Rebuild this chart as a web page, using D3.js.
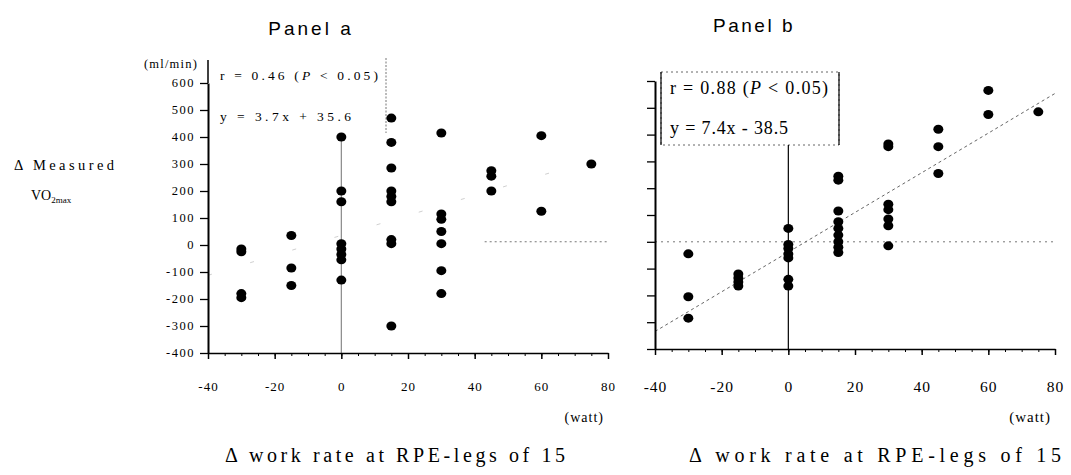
<!DOCTYPE html>
<html>
<head>
<meta charset="utf-8">
<script src="https://cdn.jsdelivr.net/npm/d3@7"></script>
<style>
  body { margin: 0; background: #fff; }
  text { font-family: "Liberation Serif", "Times New Roman", serif; fill: #000; }
</style>
</head>
<body>
<div id="container"></div>
<script>
/* CONSTANTS AND GLOBALS */
const width = 1071, height = 475

// DATA
const xLevels = [-30, -15, 0, 15, 30, 45, 60, 75]   // watt
const panelAValues = [
  [-15, -25, -180, -195],
  [35, -85, -150],
  [400, 200, 160, 5, -15, -35, -55, -130],
  [470, 380, 285, 200, 180, 160, 20, 5, -300],
  [415, 115, 95, 50, 5, -95, -180],
  [275, 255, 200],
  [405, 125],
  [300]
]
const panelBValues = [
  [-45, -205, -285],
  [-120, -135, -150, -165],
  [50, -10, -25, -45, -60, -140, -165],
  [245, 230, 115, 75, 50, 25, 0, -20, -40],
  [365, 355, 140, 120, 85, 60, -15],
  [420, 355, 255],
  [565, 475],
  [485]
]
const regA = { slope: 3.7, intercept: 35.6 }
const regB = { slope: 7.4, intercept: -38.5 }
const xTicks = [-40, -20, 0, 20, 40, 60, 80]
const xMinorTicks = d3.range(-40, 81, 5)
const yTicks = [-400, -300, -200, -100, 0, 100, 200, 300, 400, 500, 600]
const statsA = ["r = 0.46 (", "P", " < 0.05)"]
const statsB = ["r = 0.88 (", "P", " < 0.05)"]
const eqA = "y = 3.7x + 35.6"
const eqB = "y = 7.4x - 38.5"
const xTitle = "\u0394 work rate at RPE-legs of 15"

const toPoints = values => values.flatMap((vals, i) => vals.map(v => ({ x: xLevels[i], y: v })))

const svg = d3.select("#container")
  .append("svg")
  .attr("width", width)
  .attr("height", height)

// SCALES
const xA = d3.scaleLinear().domain([-40, 80]).range([208, 608])
const yA = d3.scaleLinear().domain([-400, 600]).range([353, 83])
const xB = d3.scaleLinear().domain([-40, 80]).range([655, 1055])
const yB = d3.scaleLinear().domain([-400, 600]).range([349, 81])

function drawXAxis(x, y, fontSize, pad) {
  // minor ticks every 5
  svg.append("g")
    .attr("transform", `translate(0, ${y(-400)})`)
    .call(d3.axisBottom(x).tickValues(xMinorTicks).tickSize(3).tickSizeOuter(0).tickFormat(""))
    .call(g => g.select(".domain").attr("stroke-width", 1.6))
  // major ticks every 20
  svg.append("g")
    .attr("transform", `translate(0, ${y(-400)})`)
    .call(d3.axisBottom(x).tickValues(xTicks).tickSize(6).tickSizeOuter(0).tickPadding(pad).tickFormat(d => String(d)))
    .call(g => g.select(".domain").remove())
    .call(g => g.selectAll("line").attr("stroke-width", 1.5))
    .call(g => g.selectAll("text")
      .attr("font-family", '"Liberation Serif", serif')
      .attr("font-size", fontSize)
      .attr("letter-spacing", 1))
}

function drawYAxis(x, y, labels) {
  svg.append("g")
    .attr("transform", `translate(${x(-40)}, 0)`)
    .call(d3.axisLeft(y).tickValues(yTicks).tickSize(8).tickSizeOuter(0).tickPadding(5)
      .tickFormat(labels ? d => String(d) : ""))
    .call(g => g.select(".domain").attr("stroke-width", 2))
    .call(g => g.selectAll("line").attr("stroke-width", 1.3))
    .call(g => g.selectAll("text")
      .attr("font-family", '"Liberation Serif", serif')
      .attr("font-size", 12.5)
      .attr("letter-spacing", 1.5)
      .attr("dy", "0.3em"))
}

/* ---------------- PANEL A ---------------- */
svg.append("text")
  .attr("x", 311).attr("y", 35)
  .attr("text-anchor", "middle")
  .attr("font-size", 19)
  .attr("letter-spacing", 3)
  .style("font-family", '"Liberation Sans", Arial, sans-serif')
  .text("Panel  a")

// faint regression line (shows only in fragments)
svg.append("line")
  .attr("x1", xA(-40)).attr("y1", yA(regA.slope * -40 + regA.intercept))
  .attr("x2", xA(80)).attr("y2", yA(regA.slope * 80 + regA.intercept))
  .attr("stroke", "#d0d0d0").attr("stroke-width", 1)
  .attr("stroke-dasharray", "4,40")

// partial dotted reference line on the right
svg.append("line")
  .attr("x1", xA(43)).attr("x2", xA(80))
  .attr("y1", yA(12)).attr("y2", yA(12))
  .attr("stroke", "#777").attr("stroke-dasharray", "2,3")

// vertical line at 0
svg.append("line")
  .attr("x1", xA(0)).attr("x2", xA(0))
  .attr("y1", yA(400)).attr("y2", yA(-400))
  .attr("stroke", "#888").attr("stroke-width", 1.2)

drawXAxis(xA, yA, 13, 23)
drawYAxis(xA, yA, true)

// text box (only the side borders show)
svg.append("line")
  .attr("x1", xA(-40)).attr("x2", xA(-40)).attr("y1", 60).attr("y2", yA(600))
  .attr("stroke", "#000").attr("stroke-width", 1.5)
svg.append("line")
  .attr("x1", 386).attr("x2", 386).attr("y1", 58).attr("y2", 133)
  .attr("stroke", "#777").attr("stroke-dasharray", "2,1.5")

svg.append("text")
  .attr("x", 220).attr("y", 80)
  .attr("font-size", 13.5)
  .attr("textLength", 158).attr("lengthAdjust", "spacing")
  .selectAll("tspan").data(statsA).join("tspan")
  .attr("font-style", (d, i) => i === 1 ? "italic" : null)
  .text(d => d)
svg.append("text")
  .attr("x", 220).attr("y", 121)
  .attr("font-size", 13.5)
  .attr("textLength", 131).attr("lengthAdjust", "spacing")
  .text(eqA)

svg.append("text")
  .attr("x", 198).attr("y", 68)
  .attr("text-anchor", "end")
  .attr("font-size", 12.5)
  .attr("letter-spacing", 1.2)
  .text("(ml/min)")

svg.selectAll(".dotA")
  .data(toPoints(panelAValues))
  .join("ellipse")
  .attr("class", "dotA")
  .attr("cx", d => xA(d.x))
  .attr("cy", d => yA(d.y))
  .attr("rx", 5).attr("ry", 4.5)
  .attr("fill", "#000")

// axis titles
svg.append("text")
  .attr("x", 14).attr("y", 170)
  .attr("font-size", 14.5)
  .attr("textLength", 100).attr("lengthAdjust", "spacing")
  .text("\u0394 Measured")
const vo = svg.append("text")
  .attr("x", 31).attr("y", 200)
  .attr("font-size", 14)
vo.append("tspan").text("VO")
vo.append("tspan").attr("font-size", 9).attr("dy", 3).text("2max")

svg.append("text")
  .attr("x", xA(80) - 4).attr("y", 422)
  .attr("text-anchor", "end")
  .attr("font-size", 14)
  .attr("letter-spacing", 1)
  .text("(watt)")

svg.append("text")
  .attr("x", 225).attr("y", 462)
  .attr("font-size", 20)
  .attr("textLength", 340).attr("lengthAdjust", "spacing")
  .text(xTitle)

/* ---------------- PANEL B ---------------- */
svg.append("text")
  .attr("x", 754).attr("y", 32)
  .attr("text-anchor", "middle")
  .attr("font-size", 19)
  .attr("letter-spacing", 2.5)
  .style("font-family", '"Liberation Sans", Arial, sans-serif')
  .text("Panel  b")

// zero reference line
svg.append("line")
  .attr("x1", xB(-40)).attr("x2", xB(80))
  .attr("y1", yB(0)).attr("y2", yB(0))
  .attr("stroke", "#777").attr("stroke-dasharray", "2,4")

// regression line
svg.append("line")
  .attr("x1", xB(-40)).attr("y1", yB(regB.slope * -40 + regB.intercept))
  .attr("x2", xB(80)).attr("y2", yB(regB.slope * 80 + regB.intercept))
  .attr("stroke", "#666").attr("stroke-width", 1)
  .attr("stroke-dasharray", "3,3")

// text box
const boxB = { x: 661, y: 72, w: 178, h: 73 }
svg.append("rect")
  .attr("x", boxB.x).attr("y", boxB.y).attr("width", boxB.w).attr("height", boxB.h)
  .attr("fill", "#fff").attr("stroke", "#666").attr("stroke-dasharray", "2,3")
svg.selectAll(".boxSide")
  .data([boxB.x, boxB.x + boxB.w])
  .join("line")
  .attr("class", "boxSide")
  .attr("x1", d => d).attr("x2", d => d)
  .attr("y1", boxB.y).attr("y2", boxB.y + boxB.h)
  .attr("stroke", "#000").attr("stroke-width", 1.2)

// vertical line at 0
svg.append("line")
  .attr("x1", xB(0)).attr("x2", xB(0))
  .attr("y1", boxB.y + boxB.h).attr("y2", yB(-400))
  .attr("stroke", "#000").attr("stroke-width", 1.2)

svg.append("text")
  .attr("x", 670).attr("y", 94)
  .attr("font-size", 18)
  .attr("textLength", 158).attr("lengthAdjust", "spacing")
  .selectAll("tspan").data(statsB).join("tspan")
  .attr("font-style", (d, i) => i === 1 ? "italic" : null)
  .text(d => d)
svg.append("text")
  .attr("x", 670).attr("y", 134)
  .attr("font-size", 18)
  .attr("textLength", 118).attr("lengthAdjust", "spacing")
  .text(eqB)

drawXAxis(xB, yB, 15.5, 26)
drawYAxis(xB, yB, false)

svg.selectAll(".dotB")
  .data(toPoints(panelBValues))
  .join("ellipse")
  .attr("class", "dotB")
  .attr("cx", d => xB(d.x))
  .attr("cy", d => yB(d.y))
  .attr("rx", 5).attr("ry", 4.5)
  .attr("fill", "#000")

svg.append("text")
  .attr("x", xB(80) - 4).attr("y", 422)
  .attr("text-anchor", "end")
  .attr("font-size", 15)
  .attr("letter-spacing", 1)
  .text("(watt)")

svg.append("text")
  .attr("x", 689).attr("y", 462)
  .attr("font-size", 20)
  .attr("textLength", 372).attr("lengthAdjust", "spacing")
  .text(xTitle)
</script>
</body>
</html>
